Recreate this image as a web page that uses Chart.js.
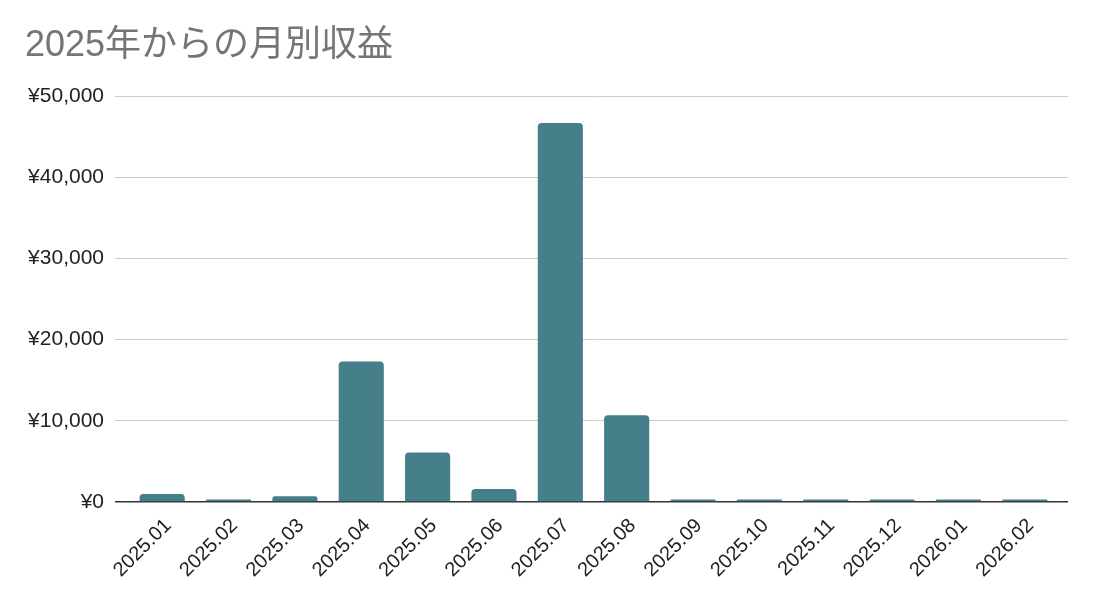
<!DOCTYPE html>
<html>
<head>
<meta charset="utf-8">
<script src="https://cdn.jsdelivr.net/npm/chart.js@4"></script>
<style>
  html, body { margin: 0; padding: 0; background: #fff; }
  #wrap { width: 1094px; height: 605px; position: relative; }
</style>
</head>
<body>
<div id="wrap"><canvas id="revenueChart"></canvas></div>
<script>
// 月別収益データ
const months = ['2025.01', '2025.02', '2025.03', '2025.04', '2025.05', '2025.06', '2025.07',
                '2025.08', '2025.09', '2025.10', '2025.11', '2025.12', '2026.01', '2026.02'];
const revenue = [1000, 300, 700, 17300, 6100, 1600, 46700, 10700, 300, 300, 300, 300, 300, 300];
const yTicks = [0, 10000, 20000, 30000, 40000, 50000];

const FONT = '"Liberation Sans", Arial, "Noto Sans CJK JP", sans-serif';
const gridColor = '#cccccc';
const axisColor = '#333333';

function gridFor(ctx) {
  return ctx.tick && ctx.tick.value === 0 ? axisColor : gridColor;
}
function widthFor(ctx) {
  return ctx.tick && ctx.tick.value === 0 ? 1.5 : 1;
}

const ctx = document.getElementById('revenueChart').getContext('2d');
new Chart(ctx, {
  type: 'bar',
  data: {
    labels: months,
    datasets: [{
      label: '収益',
      data: revenue,
      backgroundColor: '#457f89',
      borderRadius: 4,
      borderSkipped: 'bottom',
      barPercentage: 0.68,
      categoryPercentage: 1
    }]
  },
  options: {
    responsive: true,
    maintainAspectRatio: false,
    animation: false,
    layout: { padding: { left: 25, right: 26, top: 0, bottom: 0 } },
    plugins: {
      legend: { display: false },
      tooltip: { enabled: false },
      title: {
        display: true,
        text: '2025年からの月別収益',
        align: 'start',
        color: '#757575',
        font: { family: FONT, size: 36, weight: 'normal' },
        padding: { top: 24, bottom: 29 }
      }
    },
    scales: {
      x: {
        offset: true,
        grid: { display: false },
        border: { display: false },
        ticks: {
          autoSkip: false,
          minRotation: 45,
          maxRotation: 45,
          color: '#222',
          padding: 4,
          labelOffset: 6,
          font: { family: FONT, size: 20 }
        },
        afterFit: (scale) => { scale.height = 103; }
      },
      y: {
        min: 0,
        max: 50000,
        afterBuildTicks: (scale) => { scale.ticks = yTicks.map(v => ({ value: v })); },
        grid: { color: gridFor, tickColor: gridFor, tickLength: 14, lineWidth: widthFor },
        border: { display: false },
        ticks: {
          color: '#222',
          padding: 11,
          font: { family: FONT, size: 21 },
          callback: (v) => '¥' + Number(v).toLocaleString('en-US')
        },
        afterFit: (scale) => { scale.width = 104; }
      },
      yRight: {
        position: 'right',
        min: 0,
        max: 50000,
        afterBuildTicks: (scale) => { scale.ticks = yTicks.map(v => ({ value: v })); },
        grid: { drawOnChartArea: false, color: gridFor, tickColor: gridFor, tickLength: 10, lineWidth: widthFor },
        border: { display: false },
        ticks: { display: false },
        afterFit: (scale) => { scale.width = 10; }
      }
    }
  }
});
</script>
</body>
</html>
